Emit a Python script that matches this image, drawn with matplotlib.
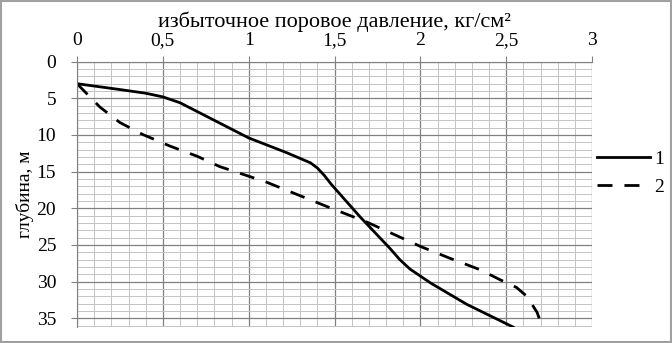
import numpy as np
import matplotlib
matplotlib.use('Agg')
import matplotlib.pyplot as plt
from matplotlib.patches import Rectangle

plt.rcParams['font.family'] = ['Liberation Serif', 'DejaVu Serif']

# curve 1 (solid)
p1 = [0.0, 0.25, 0.40, 0.5, 0.60, 0.70, 0.85, 1.0, 1.22, 1.36, 1.40, 1.44, 1.48, 1.65,
      1.82, 1.88, 1.94, 2.06, 2.27, 2.54]
d1 = [3.0, 3.8, 4.3, 4.8, 5.6, 6.8, 8.6, 10.4, 12.4, 13.8, 14.5, 15.5, 16.7, 21.2,
      25.4, 27.0, 28.3, 30.2, 33.1, 36.2]

# curve 2 (dashed)
p2 = [0.0, 0.134, 0.25, 0.38, 0.54, 0.70, 0.83, 1.10, 1.46, 1.69, 2.0, 2.17, 2.35,
      2.46, 2.56, 2.62, 2.68, 2.71]
d2 = [3.0, 6.2, 8.3, 9.9, 11.5, 12.9, 14.3, 16.4, 19.8, 21.9, 25.2, 26.8, 28.4,
      29.7, 30.8, 32.0, 34.2, 36.2]

x_ticks = [0, 0.5, 1, 1.5, 2, 2.5, 3]
x_labels = ['0', '0,5', '1', '1,5', '2', '2,5', '3']
y_ticks = [0, 5, 10, 15, 20, 25, 30, 35]

fig = plt.figure(figsize=(6.72, 3.43), dpi=100)
ax = fig.add_axes([0.1146, 0.0466, 0.7664, 0.7735])

ax.plot(p1, d1, color='black', lw=2.0, label='1')
ax.plot(p2, d2, color='black', lw=2.0, dashes=(5.4, 4.3), label='2')

ax.set_xlim(0, 3)
ax.set_ylim(36.2, 0)
ax.xaxis.tick_top()
ax.xaxis.set_label_position('top')
ax.set_xticks(x_ticks)
ax.set_xticklabels(x_labels)
ax.set_yticks(y_ticks)
ax.set_xticks(np.arange(0, 3.01, 0.1), minor=True)
ax.set_yticks(np.arange(0, 36.5, 1), minor=True)
ax.tick_params(which='major', length=4, color='#808080', labelsize=14)
ax.tick_params(axis='x', which='major', pad=5)
ax.tick_params(axis='y', which='major', pad=11)
ax.tick_params(which='minor', length=0)

ax.grid(which='major', color='#808080', lw=0.9)
ax.grid(which='minor', color='#c4c4c4', lw=0.7)
ax.set_axisbelow(True)

for s in ['bottom', 'right']:
    ax.spines[s].set_visible(False)
for s in ['left', 'top']:
    ax.spines[s].set_color('#808080')

ax.set_xlabel('избыточное поровое давление, кг/см²', fontsize=16, labelpad=4)
ax.set_ylabel('глубина, м', fontsize=14, labelpad=2)

ax.legend(loc='center left', bbox_to_anchor=(1.0097, 0.58), frameon=False,
          fontsize=14, handlelength=2.7, handletextpad=0.26, labelspacing=0.55,
          borderpad=0, borderaxespad=0)

fig.patches.append(Rectangle((0.002, 0.004), 0.996, 0.992, transform=fig.transFigure,
                             fill=False, edgecolor='#a0a0a0', lw=1.5))

fig.savefig('out.png', dpi=100)
